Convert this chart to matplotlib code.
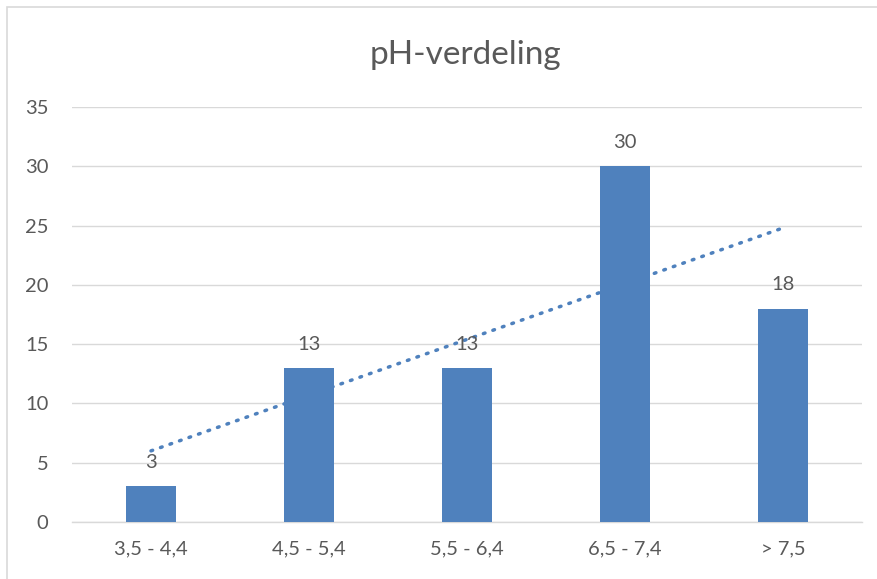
import numpy as np
import matplotlib.pyplot as plt
from matplotlib.patches import Rectangle

# pH classes and number of samples per class
categories = ['3,5 - 4,4', '4,5 - 5,4', '5,5 - 6,4', '6,5 - 7,4', '> 7,5']
counts = [3, 13, 13, 30, 18]
title = 'pH-verdeling'

bar_color = '#4F81BD'
text_color = '#595959'
grid_color = '#D9D9D9'

plt.rcParams['font.family'] = ['Lato', 'DejaVu Sans']

fig = plt.figure(figsize=(8.78, 5.79), dpi=100)
ax = fig.add_axes([72 / 878, 1 - 522 / 579, 790 / 878, (522 - 107) / 579])

x = np.arange(len(categories))
bars = ax.bar(x, counts, width=0.316, color=bar_color, zorder=3)

# linear trend line across the classes
coef = np.polyfit(x, counts, 1)
trend = np.polyval(coef, x)
ax.plot(x, trend, color=bar_color, linestyle=(0, (0.5, 2.4)), linewidth=2.5,
        dash_capstyle='round', zorder=2)

for xi, v in zip(x, counts):
    ax.annotate(str(v), (xi, v), xytext=(0, 11), textcoords='offset points',
                ha='center', va='bottom', fontsize=14.5, color=text_color, zorder=4)

ax.set_xlim(-0.5, len(categories) - 0.5)
ax.set_ylim(0, 35)
ax.set_yticks(np.arange(0, 36, 5))
ax.set_xticks(x)
ax.set_xticklabels(categories)
ax.tick_params(axis='both', length=0, labelsize=14.5, colors=text_color)
ax.tick_params(axis='x', pad=13)
ax.tick_params(axis='y', pad=17)

ax.grid(axis='y', color=grid_color, linewidth=1.0, zorder=0)
for side in ['top', 'right', 'left']:
    ax.spines[side].set_visible(False)
ax.spines['bottom'].set_color(grid_color)
ax.spines['bottom'].set_linewidth(1.0)

fig.text(465 / 878, 1 - 55 / 579, title, ha='center', va='center',
         fontsize=24, color=text_color)

# chart area border
fig.patches.append(Rectangle((7 / 878, -0.1), 1.2, 1 - 7 / 579 + 0.1,
                             transform=fig.transFigure, fill=False,
                             edgecolor='#D9D9D9', linewidth=1.2))

fig.savefig('out.png', dpi=100)
